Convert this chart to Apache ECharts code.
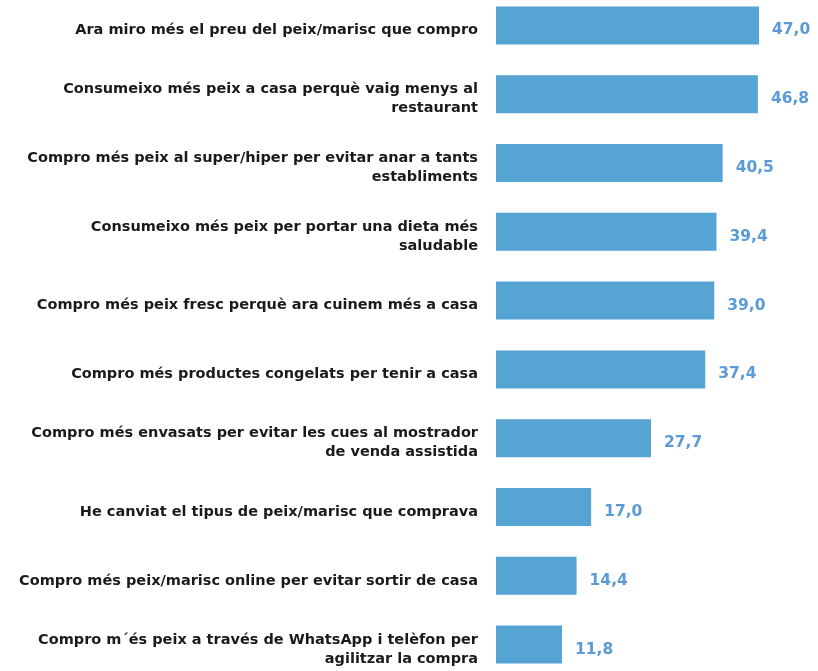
<!DOCTYPE html>
<html><head><meta charset="utf-8">
<script src="https://cdn.jsdelivr.net/npm/echarts@6/dist/echarts.min.js"></script>
<style>html,body{margin:0;padding:0;background:#fff;overflow:hidden}#c{width:818px;height:688px;margin-top:-9px}</style>
</head><body><div id="c"></div>
<script>
const categories = [
  "Ara miro més el preu del peix/marisc que compro",
  "Consumeixo més peix a casa perquè vaig menys al\nrestaurant",
  "Compro més peix al super/hiper per evitar anar a tants\nestabliments",
  "Consumeixo més peix per portar una dieta més\nsaludable",
  "Compro més peix fresc perquè ara cuinem més a casa",
  "Compro més productes congelats per tenir a casa",
  "Compro més envasats per evitar les cues al mostrador\nde venda assistida",
  "He canviat el tipus de peix/marisc que comprava",
  "Compro més peix/marisc online per evitar sortir de casa",
  "Compro m´és peix a través de WhatsApp i telèfon per\nagilitzar la compra"
];
const values = [47.0, 46.8, 40.5, 39.4, 39.0, 37.4, 27.7, 17.0, 14.4, 11.8];

const chart = echarts.init(document.getElementById('c'));
chart.setOption({
  animation: false,
  grid: {left: 496, right: 59, top: 0, bottom: 0, containLabel: false},
  xAxis: {type: 'value', min: 0, max: 47, show: false},
  yAxis: {
    type: 'category', inverse: true, data: categories,
    axisLine: {show: false}, axisTick: {show: false},
    axisLabel: {margin: 18, color: '#1a1a1a', fontSize: 14.5, fontWeight: 'bold',
      fontFamily: 'DejaVu Sans', lineHeight: 19, align: 'right',
      formatter: v => '{s| }\n' + v.split('\n').map(l => '{a|' + l + '}').join('\n'),
      rich: {
        s: {fontSize: 1, lineHeight: 10},
        a: {fontSize: 14.5, fontWeight: 'bold', fontFamily: 'DejaVu Sans', color: '#1a1a1a', lineHeight: 19}
      }}
  },
  series: [{
    type: 'bar', data: values, barWidth: 38,
    itemStyle: {color: '#56A4D4'},
    label: {show: true, position: 'right', distance: 13, color: '#5B9BD5', offset: [0, 5],
      fontSize: 15.5, fontWeight: 'bold', fontFamily: 'DejaVu Sans',
      formatter: p => p.value.toFixed(1).replace('.', ',')}
  }]
});
</script></body></html>
